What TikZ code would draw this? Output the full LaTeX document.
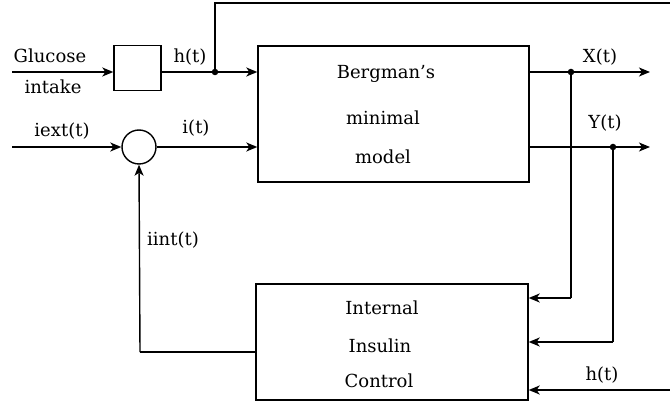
\documentclass[tikz,border=0pt]{standalone}
\usepackage{fontspec}
\setmainfont{DejaVu Serif}
\usetikzlibrary{arrows.meta}
\begin{document}
\begin{tikzpicture}[x=1pt,y=-1pt,
  every node/.style={font=\fontsize{18}{21}\selectfont},
  blk/.style={draw,line width=1.4pt,inner sep=0pt},
  wire/.style={line width=1.4pt},
  arr/.style={wire,-{Stealth[length=11pt,width=9pt,inset=3pt]}},
  dot/.style={circle,fill,inner sep=0pt,minimum size=6.5pt},
  lbl/.style={inner sep=0pt,anchor=center}]
\useasboundingbox[fill=white] (0,0) rectangle (670,403);
% blocks
\node[blk,minimum width=47pt,minimum height=45pt] (gbox) at (137.5,68) {};
\node[blk,minimum width=271pt,minimum height=136pt] (berg) at (393.5,114) {};
\node[blk,circle,minimum size=34pt] (sum) at (139,147) {};
\node[blk,minimum width=272pt,minimum height=116pt] (ctrl) at (392,342) {};
% block texts
\node[lbl] (t1) at (386,74) {Bergman’s};
\node[lbl] (t2) at (383,118) {minimal};
\node[lbl] (t3) at (383,157) {model};
\node[lbl] (t4) at (382,308) {Internal};
\node[lbl] (t5) at (380,346) {Insulin};
\node[lbl] (t6) at (379,381) {Control};
% coordinates
\coordinate (gin) at (12,72);
\coordinate (iin) at (12,147);
\coordinate (hj) at (215,72);
\coordinate (ht) at (215,3);
\coordinate (hr) at (673,3);
\coordinate (hb) at (673,390);
\coordinate (xj) at (571,72);
\coordinate (xout) at (650,72);
\coordinate (yj) at (613,147);
\coordinate (yout) at (650,147);
\coordinate (xd) at (571,298);
\coordinate (yd) at (613,342);
\coordinate (fb) at (140,352);
% connectors
\draw[arr] (gin) -- (gbox.west |- gin);
\draw[arr] (gbox.east |- hj) -- (berg.west |- hj);
\draw[wire] (hj) -- (ht) -- (hr) -- (hb);
\draw[arr] (hb) -- (ctrl.east |- hb);
\draw[arr] (iin) -- (sum.west);
\draw[arr] (sum.east) -- (berg.west |- sum.east);
\draw[arr] (berg.east |- xj) -- (xout);
\draw[arr] (berg.east |- yj) -- (yout);
\draw[wire] (xj) -- (xd);
\draw[arr] (xd) -- (ctrl.east |- xd);
\draw[wire] (yj) -- (yd);
\draw[arr] (yd) -- (ctrl.east |- yd);
\draw[wire] (ctrl.west |- fb) -- (fb);
\draw[arr] (fb) -- (sum.south);
\node[dot] (d1) at (hj) {};
\node[dot] (d2) at (xj) {};
\node[dot] (d3) at (yj) {};
% labels
\node[lbl] (l1) at (50,56) {Glucose};
\node[lbl] (l2) at (53,87) {intake};
\node[lbl] (l3) at (190,57) {h(t)};
\node[lbl] (l4) at (62,131) {iext(t)};
\node[lbl] (l5) at (196,128) {i(t)};
\node[lbl] (l6) at (173,240) {iint(t)};
\node[lbl] (l7) at (600,57) {X(t)};
\node[lbl] (l8) at (605,123) {Y(t)};
\node[lbl] (l9) at (602,375) {h(t)};
\end{tikzpicture}
\end{document}
